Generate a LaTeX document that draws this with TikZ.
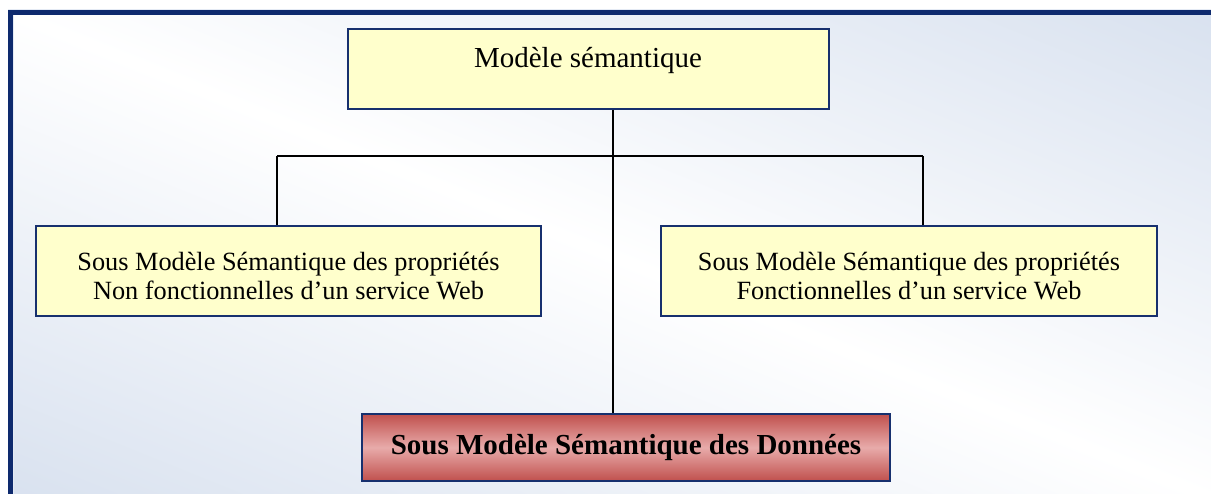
\documentclass[tikz,border=0pt]{standalone}
\usepackage{fontspec}
\setmainfont{Liberation Serif}
\usetikzlibrary{positioning}

\definecolor{framenavy}{HTML}{0E2A6E}
\definecolor{boxnavy}{HTML}{17306E}
\definecolor{paleblue}{HTML}{D8E1EF}
\definecolor{boxyellow}{HTML}{FFFFCC}
\definecolor{darkred}{HTML}{C0504D}
\definecolor{palered}{HTML}{E8ABAA}

% background band, white along the diagonal
\pgfdeclareverticalshading{bgband}{1400bp}{color(0bp)=(paleblue); color(457bp)=(white); color(914bp)=(paleblue)}

\begin{document}
\begin{tikzpicture}[x=1pt, y=-1pt,
    ybox/.style={draw=boxnavy, line width=1.6pt, fill=boxyellow, inner sep=0pt},
    rbox/.style={draw=boxnavy, line width=1.6pt, top color=darkred, bottom color=darkred, middle color=palered, inner sep=0pt},
    label/.style={inner sep=0pt, align=center},
    link/.style={draw=black, line width=1.8pt}]
        % page and frame
        \useasboundingbox (0,0) rectangle (1211,494);
        \begin{scope}
            \clip (0,0) rectangle (1211,494);
            \fill[white] (0,0) rectangle (1211,494);
            \begin{scope}
                \clip (10,12) rectangle (1211,494);
                \node[inner sep=0pt, rotate=-22] (backdrop) at (605.5,253) {\pgfuseshading{bgband}};
            \end{scope}
            \draw[paleblue!70!white, line width=6pt] (10.5,12.5) rectangle (1240,520);
            \draw[framenavy, line width=4.5pt] (10.5,12.5) rectangle (1240,520);
        \end{scope}

        % boxes
        \node[ybox, minimum width=481pt, minimum height=80pt] (top) at (588.5,69) {};
        \node[ybox, minimum width=505pt, minimum height=90pt] (left) at (288.5,271) {};
        \node[ybox, minimum width=496pt, minimum height=90pt] (right) at (909,271) {};
        \node[rbox, minimum width=528pt, minimum height=67pt] (bottom) at (626,447.5) {};

        % texts
        \node[label, anchor=base, font=\fontsize{29}{33}\selectfont] (toptext) at (588,68) {Modèle sémantique};
        \node[label, anchor=base, font=\fontsize{26.3}{29}\selectfont] (lefttext) at (288.5,300) {Sous Modèle Sémantique des propriétés\\Non fonctionnelles d’un service Web};
        \node[label, anchor=base, font=\fontsize{26.3}{29}\selectfont] (righttext) at (909,300) {Sous Modèle Sémantique des propriétés\\Fonctionnelles d’un service Web};
        \node[label, anchor=base, font=\fontsize{29}{33}\selectfont\bfseries] (bottomtext) at (626,454) {Sous Modèle Sémantique des Données};

        % connectors
        \coordinate (spine) at (613,156);
        \coordinate (forkl) at (277,156);
        \coordinate (forkr) at (923,156);
        \draw[link] (forkl) -- (forkr);
        \draw[link] (top.south -| spine) -- (bottom.north -| spine);
        \draw[link] (forkl) -- (left.north -| forkl);
        \draw[link] (forkr) -- (right.north -| forkr);
\end{tikzpicture}
\end{document}
